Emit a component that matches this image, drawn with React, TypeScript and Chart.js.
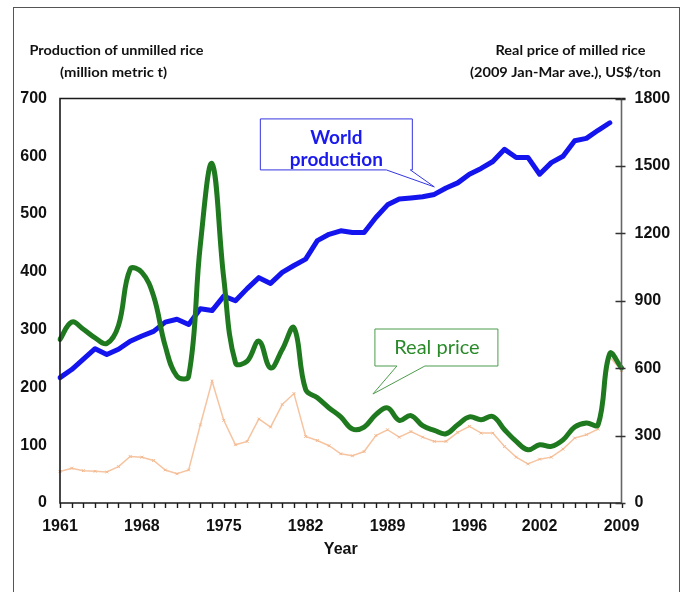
import React, { useEffect, useRef } from 'react';
import { Chart, registerables } from 'chart.js';

Chart.register(...registerables);

const years = [
  '1961', '1962', '1963', '1964', '1965', '1966', '1967', '1968', '1969', '1970',
  '1971', '1972', '1973', '1974', '1975', '1976', '1977', '1978', '1979', '1980',
  '1981', '1982', '1983', '1984', '1985', '1986', '1987', '1988', '1989', '1990',
  '1991', '1992', '1993', '1994', '1995', '1996', '1997', '1998', '1999', '2000',
  '2001', '2002', '2003', '2004', '2005', '2006', '2007', '2008', '2009',
];

const shownYears = ['1961', '1968', '1975', '1982', '1989', '1996', '2002', '2009'];

// World production of unmilled rice (million metric t), left axis
const worldProduction: (number | null)[] = [
  217, 231, 249, 267, 257, 266, 280, 289, 297, 313,
  318, 309, 336, 333, 358, 350, 371, 390, 380, 399,
  411, 422, 454, 465, 471, 468, 468, 494, 516, 526,
  528, 530, 534, 545, 554, 569, 579, 591, 612, 598,
  598, 569, 589, 600, 627, 631, 645, 658, null,
];

// Real price of milled rice (2009 Jan-Mar ave., US$/ton), right axis
const realPrice = [
  728, 805, 773, 735, 710, 790, 1040, 1026, 921, 698,
  564, 564, 1150, 1510, 1000, 624, 631, 720, 601, 683,
  780, 505, 468, 423, 383, 329, 338, 393, 423, 368,
  389, 344, 323, 308, 348, 383, 371, 385, 326, 274,
  237, 259, 252, 281, 338, 356, 348, 665, 601,
];

// Nominal price of milled rice (US$/ton), right axis
const nominalPrice = [
  140, 155, 144, 141, 138, 162, 207, 204, 189, 147,
  130, 147, 348, 542, 368, 259, 274, 374, 338, 438,
  487, 296, 278, 255, 219, 210, 229, 300, 326, 293,
  318, 293, 274, 274, 314, 341, 311, 311, 251, 204,
  174, 195, 204, 240, 289, 304, 329, 650, 590,
];

const leftTitle = ['Production of unmilled rice', '(million metric t)'];
const rightTitle = ['Real price of milled rice', '(2009 Jan-Mar ave.), US$/ton'];
const xTitle = 'Year';
const worldLabel = ['World', 'production'];
const priceLabel = 'Real price';

const TICK_FONT = { family: '"Liberation Sans", Arial, sans-serif', size: 16, weight: 'bold' as const };

function fitText(ctx: CanvasRenderingContext2D, text: string, x: number, y: number, width: number) {
  const w = ctx.measureText(text).width;
  const s = width / w;
  ctx.save();
  ctx.translate(x, y);
  ctx.scale(s, 1);
  ctx.textAlign = 'left';
  ctx.fillText(text, 0, 0);
  ctx.restore();
}

const decorPlugin = {
  id: 'decor',
  afterDraw(chart: any) {
    const { ctx, chartArea: ca, scales } = chart;
    const xs = scales.x;
    const yL = scales.yL;
    const yR = scales.yR;
    ctx.save();

    // outer frame
    ctx.strokeStyle = '#555';
    ctx.lineWidth = 1;
    ctx.strokeRect(13.5, 7.5, 666, 620);

    // plot box
    ctx.lineWidth = 1.6;
    ctx.strokeStyle = '#1a1a1a';
    ctx.beginPath();
    ctx.moveTo(ca.right + 4, ca.top);
    ctx.lineTo(ca.left, ca.top);
    ctx.lineTo(ca.left, ca.bottom);
    ctx.lineTo(ca.right, ca.bottom);
    ctx.stroke();
    ctx.strokeStyle = '#666';
    ctx.beginPath();
    ctx.moveTo(ca.right, ca.top);
    ctx.lineTo(ca.right, ca.bottom);
    ctx.stroke();

    // x ticks every year
    ctx.strokeStyle = '#1a1a1a';
    ctx.lineWidth = 1.4;
    ctx.beginPath();
    for (let i = 0; i < years.length; i++) {
      const px = Math.round(xs.getPixelForValue(i)) + 0.5;
      ctx.moveTo(px, ca.bottom);
      ctx.lineTo(px, ca.bottom + 5);
    }
    ctx.stroke();

    // right axis ticks
    ctx.strokeStyle = '#333';
    ctx.beginPath();
    for (const t of yR.ticks) {
      const py = Math.round(yR.getPixelForValue(t.value)) + 0.5;
      ctx.moveTo(ca.right - 6, py);
      ctx.lineTo(ca.right + 4, py);
    }
    ctx.stroke();

    // axis titles
    ctx.fillStyle = '#111';
    ctx.textBaseline = 'middle';
    ctx.font = 'bold 14px Lato, sans-serif';
    fitText(ctx, leftTitle[0], 29.5, 50.5, 174);
    fitText(ctx, leftTitle[1], 60, 72.5, 107);
    fitText(ctx, rightTitle[0], 495.5, 50.5, 150);
    fitText(ctx, rightTitle[1], 470, 72.5, 191);

    ctx.font = 'bold 16px "Liberation Sans", Arial, sans-serif';
    ctx.textAlign = 'center';
    ctx.fillText(xTitle, (ca.left + ca.right) / 2, 550);

    // World production callout
    const tw = { x: xs.getPixelForValue(32), y: yL.getPixelForValue(547) };
    const wb = { l: tw.x - 174, r: tw.x - 22, t: tw.y - 68, b: tw.y - 17 };
    ctx.lineWidth = 1;
    ctx.strokeStyle = '#3434e0';
    ctx.fillStyle = '#ffffff';
    ctx.beginPath();
    ctx.moveTo(wb.l, wb.t);
    ctx.lineTo(wb.r, wb.t);
    ctx.lineTo(wb.r, wb.b);
    ctx.lineTo(tw.x - 24, wb.b);
    ctx.lineTo(tw.x, tw.y);
    ctx.lineTo(tw.x - 48, wb.b);
    ctx.lineTo(wb.l, wb.b);
    ctx.closePath();
    ctx.fill();
    ctx.stroke();
    ctx.fillStyle = '#1a1aee';
    ctx.font = 'bold 19px Lato, sans-serif';
    ctx.textAlign = 'center';
    ctx.textBaseline = 'middle';
    ctx.fillText(worldLabel[0], tw.x - 98, tw.y - 49);
    ctx.fillText(worldLabel[1], tw.x - 98, tw.y - 27);

    // Real price callout
    const tp = { x: xs.getPixelForValue(26.75), y: yR.getPixelForValue(485) };
    const pb = { l: tp.x + 2, r: tp.x + 125, t: tp.y - 65, b: tp.y - 28 };
    ctx.strokeStyle = '#4c9c4c';
    ctx.fillStyle = '#ffffff';
    ctx.beginPath();
    ctx.moveTo(pb.l, pb.t);
    ctx.lineTo(pb.r, pb.t);
    ctx.lineTo(pb.r, pb.b);
    ctx.lineTo(tp.x + 52, pb.b);
    ctx.lineTo(tp.x, tp.y);
    ctx.lineTo(tp.x + 24, pb.b);
    ctx.lineTo(pb.l, pb.b);
    ctx.closePath();
    ctx.fill();
    ctx.stroke();
    ctx.fillStyle = '#2a8a2a';
    ctx.font = '20px Lato, sans-serif';
    ctx.fillText(priceLabel, tp.x + 64, tp.y - 46);

    ctx.restore();
  },
};

export default function App() {
  const ref = useRef<HTMLCanvasElement | null>(null);

  useEffect(() => {
    if (!ref.current) return;
    const chart = new Chart(ref.current, {
      type: 'line',
      data: {
        labels: years,
        datasets: [
          {
            label: 'Nominal price',
            data: nominalPrice,
            yAxisID: 'yR',
            borderColor: '#f6c4a0',
            backgroundColor: '#f6c4a0',
            borderWidth: 1.5,
            pointRadius: 2,
            pointStyle: 'crossRot',
            pointBorderColor: '#f3b88f',
            pointBorderWidth: 1,
            tension: 0,
            order: 3,
          },
          {
            label: 'World production',
            data: worldProduction,
            yAxisID: 'yL',
            borderColor: '#1414ee',
            borderWidth: 5,
            pointRadius: 0,
            tension: 0,
            borderJoinStyle: 'round',
            borderCapStyle: 'round',
            order: 2,
          },
          {
            label: 'Real price',
            data: realPrice,
            yAxisID: 'yR',
            borderColor: '#1f7a1f',
            borderWidth: 5,
            pointRadius: 0,
            tension: 0.4,
            borderJoinStyle: 'round',
            borderCapStyle: 'round',
            order: 1,
          },
        ],
      },
      options: {
        responsive: false,
        animation: false,
        layout: { padding: { top: 98.5, left: 0, right: 0, bottom: 0 } },
        plugins: {
          legend: { display: false },
          tooltip: { enabled: false },
          title: { display: false },
        },
        scales: {
          x: {
            type: 'category',
            offset: false,
            grid: { display: false },
            border: { display: false },
            ticks: {
              autoSkip: false,
              maxRotation: 0,
              minRotation: 0,
              padding: 6,
              color: '#111',
              font: TICK_FONT,
              callback: (_v: any, i: number) => (shownYears.includes(years[i]) ? years[i] : ''),
            },
            afterFit: (s: any) => {
              s.height = 89;
            },
          },
          yL: {
            type: 'linear',
            position: 'left',
            min: 0,
            max: 700,
            grid: { display: false },
            border: { display: false },
            ticks: {
              stepSize: 100,
              padding: 5,
              color: '#111',
              font: TICK_FONT,
              callback: (v: any) => String(v),
            },
            afterFit: (s: any) => {
              s.width = 60;
            },
          },
          yR: {
            type: 'linear',
            position: 'right',
            min: 0,
            max: 1800,
            grid: { display: false },
            border: { display: false },
            ticks: {
              stepSize: 300,
              padding: 5,
              color: '#111',
              font: TICK_FONT,
              callback: (v: any) => String(v),
            },
            afterFit: (s: any) => {
              s.width = 62.5;
            },
          },
        },
      },
      plugins: [decorPlugin],
    } as any);
    return () => chart.destroy();
  }, []);

  return (
    <div style={{ position: 'fixed', left: 0, top: 0, width: 684, height: 592, background: '#fff' }}>
      <canvas ref={ref} width={684} height={592} style={{ display: 'block' }} />
    </div>
  );
}
